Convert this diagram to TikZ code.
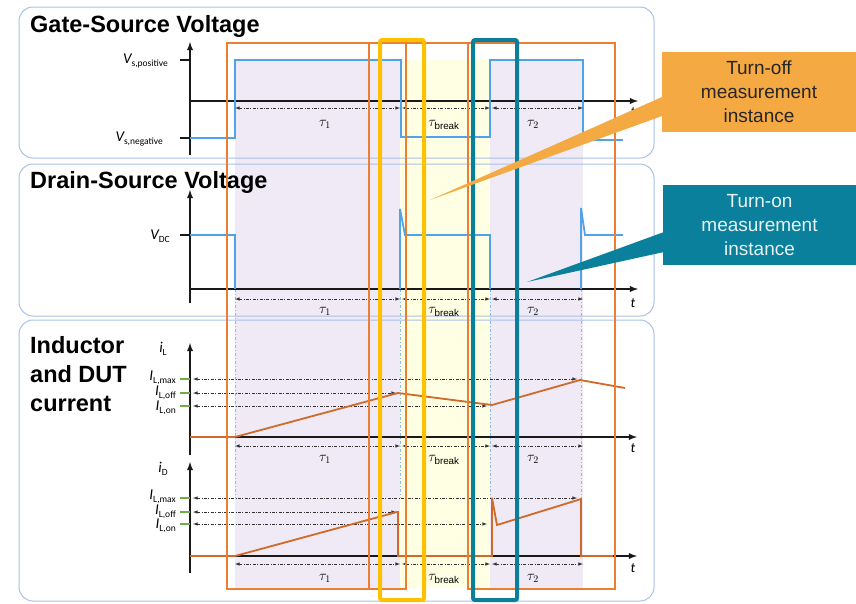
\documentclass[tikz,border=0pt]{standalone}
\usepackage{fontspec}
\setmainfont{Liberation Sans}
\newfontfamily\plotfont{Carlito}
\usepackage{tikz}
\usetikzlibrary{shapes,arrows,backgrounds,positioning,fit}

\definecolor{PanelLine}{HTML}{A9C0E8}
\definecolor{Lavender}{HTML}{EFEAF6}
\definecolor{PaleYellow}{HTML}{FFFFE4}
\definecolor{SigBlue}{HTML}{4FA3E8}
\definecolor{CurOrange}{HTML}{CF6A28}
\definecolor{WinOrange}{HTML}{ED7D31}
\definecolor{HiYellow}{HTML}{FFC000}
\definecolor{HiTeal}{HTML}{0B7F99}
\definecolor{TickGreen}{HTML}{70AD47}
\definecolor{CallOrange}{HTML}{F5A942}
\definecolor{CallTeal}{HTML}{0A809C}

% italic symbol with a small upright subscript
\newcommand{\plotsym}[2]{{\plotfont\itshape\fontsize{15}{17}\selectfont #1}\raisebox{-3pt}{\plotfont\fontsize{9.5}{10}\selectfont #2}}

\begin{document}
\begin{tikzpicture}[x=1pt,y=-1pt]
		\tikzstyle{Panel}	= [draw=PanelLine, line width=1pt, rounded corners=14pt]
		\tikzstyle{Axis}	= [black!90, line width=1.8pt, -latex]
		\tikzstyle{Tick}	= [black!90, line width=1.8pt]
		\tikzstyle{Level}	= [TickGreen, line width=2.2pt]
		\tikzstyle{Signal}	= [SigBlue, line width=1.8pt]
		\tikzstyle{Current}	= [CurOrange, line width=1.8pt]
		\tikzstyle{Span}	= [<->, >=latex, black!80, line width=0.6pt, dash pattern=on 3pt off 1.5pt on 0.8pt off 1.5pt]
		\tikzstyle{Guide}	= [SigBlue!70, line width=0.8pt, dash pattern=on 3pt off 2pt on 1pt off 2pt]
		\tikzstyle{Window}	= [WinOrange, line width=1.3pt]
		\tikzstyle{Marker}	= [line width=4pt, rounded corners=2pt]
		\tikzstyle{Title}	= [anchor=base west, inner sep=0pt, font=\bfseries\fontsize{23.5}{29}\selectfont]
		\tikzstyle{YLabel}	= [anchor=east, inner sep=0pt]
		\tikzstyle{Tau}		= [inner sep=0pt, font=\fontsize{14}{16}\selectfont]
		\tikzstyle{TLabel}	= [inner sep=0pt, font=\plotfont\itshape\fontsize{14}{16}\selectfont]
		\tikzstyle{Callout}	= [minimum width=194pt, minimum height=80pt, inner sep=0pt, align=center, font=\fontsize{19}{24}\selectfont]

		\useasboundingbox (0,0) rectangle (856,603);

		% on / break / on time bands
		\fill [Lavender] (235,60) rectangle (400,588);
		\fill [PaleYellow] (400,60) rectangle (490,588);
		\fill [Lavender] (490,60) rectangle (583,588);

		% panels and titles
		\draw [Panel] (19,7) rectangle (654,158);
		\draw [Panel] (19,164) rectangle (654,316);
		\draw [Panel] (19,320) rectangle (654,601);
		\node (ttlGate) at (30,32) [Title] {Gate-Source Voltage};
		\node (ttlDrain) at (30,188) [Title] {Drain-Source Voltage};
		\node (ttlInd) at (30,353) [Title] {Inductor};
		\node (ttlAnd) at (30,382) [Title] {and DUT};
		\node (ttlCur) at (30,411) [Title] {current};

		% switching instants
		\foreach \x in {235,400,490,581}
			\draw [Guide] (\x,289) -- (\x,498);

		% gate-source voltage
		\coordinate (gBot) at (190,155);
		\coordinate (gTop) at (190,42);
		\coordinate (gO) at (190,101);
		\coordinate (gEnd) at (638,101);
		\draw [Axis] (gBot) to (gTop);
		\draw [Axis] (gO) to (gEnd);
		\draw [Tick] (180,60) -- (190,60);
		\draw [Tick] (180,138) -- (190,138);
		\node (vpos) at (168,61) [YLabel] {\plotsym{V}{s,positive}};
		\node (vneg) at (163,139) [YLabel] {\plotsym{V}{s,negative}};
		\draw [Signal] (190,138) -- (235,138) -- (235,60) -- (401,60) -- (401,137) -- (490,137)
			-- (490,60) -- (583,60) -- (583,140) -- (623,140);

		% drain-source voltage
		\coordinate (dBot) at (190,303);
		\coordinate (dTop) at (190,190);
		\coordinate (dO) at (190,289);
		\coordinate (dEnd) at (638,289);
		\draw [Axis] (dBot) to (dTop);
		\draw [Axis] (dO) to (dEnd);
		\draw [Tick] (180,235) -- (190,235);
		\node (vdc) at (170,236) [YLabel] {\plotsym{V}{DC}};
		\draw [Signal] (190,235) -- (235,235) -- (235,289);
		\draw [Signal] (400,289) -- (400,209) -- (405,235) -- (490,235) -- (490,289);
		\draw [Signal] (581,289) -- (581,208) -- (585,235) -- (623,235);

		% inductor current
		\coordinate (lBot) at (190,455);
		\coordinate (lTop) at (190,343);
		\coordinate (lO) at (190,437);
		\coordinate (lEnd) at (637,437);
		\draw [Axis] (lBot) to (lTop);
		\draw [Axis] (lO) to (lEnd);
		\node (il) at (163,349) [inner sep=0pt] {\plotsym{i}{L}};

		% DUT current
		\coordinate (cBot) at (190,573);
		\coordinate (cTop) at (190,462);
		\coordinate (cO) at (190,556);
		\coordinate (cEnd) at (637,556);
		\draw [Axis] (cBot) to (cTop);
		\draw [Axis] (cO) to (cEnd);
		\node (id) at (163,469) [inner sep=0pt] {\plotsym{i}{D}};

		% current levels for both plots
		\foreach \ym/\yf/\yn/\p in {379/393/406/l, 498/512/524/c} {
			\draw [Level] (180,\ym) -- (190,\ym);
			\draw [Level] (180,\yf) -- (190,\yf);
			\draw [Level] (180,\yn) -- (190,\yn);
			\node (max\p) at (176,\ym-1) [YLabel] {\plotsym{I}{L,max}};
			\node (off\p) at (176,\yf) [YLabel] {\plotsym{I}{L,off}};
			\node (on\p) at (176,\yn+2) [YLabel] {\plotsym{I}{L,on}};
			\draw [Span] (193,\ym) -- (577,\ym);
			\draw [Span] (193,\yf) -- (396,\yf);
			\draw [Span] (193,\yn) -- (487,\yn);
		}
		\draw [Current] (190,437) -- (235,437) -- (398,393) -- (492,405) -- (580,380) -- (625,388);
		\draw [Current] (190,556) -- (235,556) -- (397,512) -- (398,512) -- (398,556) -- (492,556)
			-- (492,498) -- (497,525) -- (581,499) -- (581,556) -- (613,556);

		% time intervals under every axis
		\foreach \ya/\yl/\yt/\p in {108/124/112/g, 299/311/303/d, 446/459/448/l, 564/578/568/c} {
			\draw [Span] (235,\ya) -- (400,\ya);
			\draw [Span] (402,\ya) -- (490,\ya);
			\draw [Span] (492,\ya) -- (583,\ya);
			\node (tauOne\p) at (325,\yl) [Tau] {$\tau_{1}$};
			\node (tauBrk\p) at (444,\yl+1) [Tau] {$\tau_{\mathrm{break}}$};
			\node (tauTwo\p) at (533,\yl) [Tau] {$\tau_{2}$};
			\node (t\p) at (633,\yt) [TLabel] {t};
		}

		% measurement windows
		\draw [Window] (227,43) rectangle (406,589);
		\draw [Window] (468,43) rectangle (615,589);
		\draw [Window] (369,589) -- (369,43) -- (516,43) -- (516,589);

		% turn-off / turn-on instants
		\draw [Marker, HiYellow] (380,40) rectangle (424,600);
		\draw [Marker, HiTeal] (473,40) rectangle (517,600);

		% callouts
		\node (offBox) at (759,92) [Callout, fill=CallOrange, text=black!85] {Turn-off\\measurement\\instance};
		\coordinate (offTip) at (430,200);
		\fill [CallOrange] (662,97) -- (offTip) -- (662,116) -- cycle;
		\node (onBox) at (759.5,225) [Callout, fill=CallTeal, text=white!90!CallTeal] {Turn-on\\measurement\\instance};
		\coordinate (onTip) at (527,282);
		\fill [CallTeal] (664,232) -- (onTip) -- (664,252) -- cycle;
\end{tikzpicture}
\end{document}
